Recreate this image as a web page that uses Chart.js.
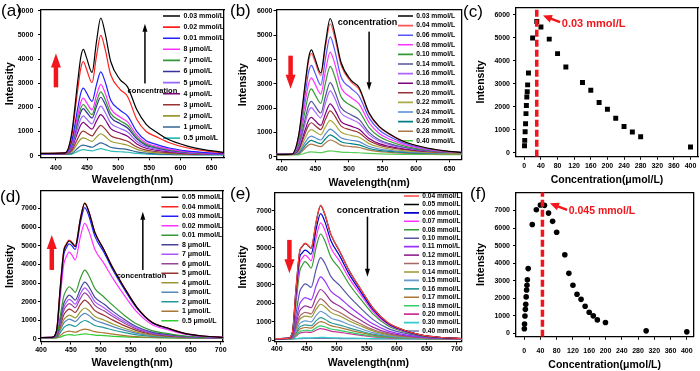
<!DOCTYPE html>
<html>
<head>
<meta charset="utf-8">
<script src="https://cdn.jsdelivr.net/npm/chart.js@4.4.1/dist/chart.umd.min.js"></script>
<style>
  html, body { margin: 0; padding: 0; background: #fff; }
  #wrap { position: relative; width: 700px; height: 371px; overflow: hidden; }
  #wrap canvas { position: absolute; }
</style>
</head>
<body>
<div id="wrap">
  <canvas id="pa" width="230" height="192" style="left:0;top:0"></canvas>
  <canvas id="pb" width="238" height="192" style="left:228px;top:0"></canvas>
  <canvas id="pc" width="238" height="192" style="left:462px;top:0"></canvas>
  <canvas id="pd" width="228" height="186" style="left:0;top:185px"></canvas>
  <canvas id="pe" width="238" height="186" style="left:228px;top:185px"></canvas>
  <canvas id="pf" width="238" height="186" style="left:462px;top:185px"></canvas>
</div>
<script>
// ---- data ----
// wavelength grids (nm)
const wlAB = [375, 415, 425, 435, 440, 444, 449, 458, 465, 472, 479, 488, 503, 515, 530, 545, 560, 580, 610, 640, 672];
const wlDE = [396, 418, 426, 432, 438, 442, 447, 452, 457, 466, 473, 480, 490, 505, 520, 540, 560, 585, 610, 640, 670, 710];

// (a) low concentrations
const aLabels = ['0.03 mmol/L', '0.02 mmol/L', '0.01 mmol/L', '8 μmol/L', '7 μmol/L', '6 μmol/L',
                 '5 μmol/L', '4 μmol/L', '3 μmol/L', '2 μmol/L', '1 μmol/L', '0.5 μmol/L'];
const aColors = ['#000000', '#FF2020', '#2020FF', '#FF33FF', '#339933', '#333399',
                 '#9966FF', '#800080', '#993333', '#999933', '#336699', '#33BBBB'];
const aSeries = [
  [100, 120, 880, 3080, 4090, 4400, 4070, 3450, 4690, 5700, 5070, 3900, 3150, 2850, 1900, 1300, 1000, 680, 410, 245, 130],
  [100, 120, 780, 2730, 3630, 3900, 3590, 3020, 4100, 4980, 4410, 3350, 2750, 2450, 1500, 1000, 800, 560, 330, 200, 110],
  [90, 100, 560, 1960, 2600, 2800, 2610, 2250, 2920, 3470, 3060, 2300, 1880, 1650, 1000, 620, 480, 330, 200, 130, 90],
  [90, 100, 480, 1670, 2210, 2380, 2210, 1900, 2480, 2950, 2600, 1950, 1600, 1400, 850, 530, 400, 280, 170, 110, 80],
  [90, 100, 420, 1480, 1970, 2120, 1970, 1700, 2220, 2640, 2330, 1750, 1450, 1260, 760, 470, 360, 250, 150, 100, 80],
  [85, 95, 390, 1370, 1810, 1950, 1810, 1560, 2030, 2420, 2130, 1600, 1330, 1150, 700, 430, 330, 230, 140, 95, 75],
  [85, 95, 330, 1160, 1530, 1650, 1530, 1320, 1720, 2050, 1800, 1350, 1130, 980, 590, 370, 280, 200, 120, 85, 70],
  [80, 90, 280, 970, 1280, 1380, 1280, 1100, 1430, 1700, 1500, 1120, 940, 810, 490, 310, 235, 170, 105, 75, 65],
  [75, 85, 200, 710, 950, 1020, 950, 820, 1060, 1260, 1110, 830, 700, 600, 360, 230, 175, 125, 80, 60, 55],
  [70, 80, 150, 520, 690, 740, 690, 590, 770, 910, 800, 600, 505, 435, 265, 170, 130, 95, 65, 50, 50],
  [60, 70, 90, 310, 410, 440, 410, 350, 450, 530, 470, 350, 295, 255, 160, 105, 80, 60, 45, 40, 40],
  [55, 60, 70, 180, 235, 250, 235, 200, 250, 290, 255, 190, 165, 145, 95, 70, 55, 45, 40, 35, 35]
];

// (b) high concentrations
const bLabels = ['0.03 mmol/L', '0.04 mmol/L', '0.06 mmol/L', '0.08 mmol/L', '0.10 mmol/L', '0.14 mmol/L',
                 '0.16 mmol/L', '0.18 mmol/L', '0.20 mmol/L', '0.22 mmol/L', '0.24 mmol/L', '0.26 mmol/L',
                 '0.28 mmol/L', '0.40 mmol/L'];
const bColors = ['#000000', '#FF5555', '#5555FF', '#FF33FF', '#339933', '#555599', '#AA66FF',
                 '#800080', '#993333', '#AAAA44', '#5588CC', '#008080', '#AA7744', '#55CC55'];
const bSeries = [
  [100, 110, 880, 3080, 4090, 4400, 4070, 3450, 4680, 5690, 5060, 3900, 3150, 2850, 1800, 1250, 950, 650, 400, 250, 160],
  [100, 110, 850, 2980, 3950, 4250, 3940, 3350, 4520, 5470, 4880, 3780, 3080, 2780, 1760, 1220, 930, 640, 390, 245, 160],
  [100, 110, 750, 2630, 3500, 3760, 3480, 2950, 4040, 4930, 4360, 3300, 2820, 2500, 1600, 1100, 830, 580, 360, 235, 165],
  [100, 110, 650, 2280, 3020, 3250, 3020, 2580, 3530, 4310, 3810, 2870, 2440, 2180, 1400, 960, 730, 520, 330, 220, 165],
  [100, 110, 560, 1950, 2590, 2790, 2580, 2200, 3040, 3720, 3290, 2480, 2110, 1880, 1200, 830, 640, 460, 300, 210, 165],
  [95, 105, 460, 1600, 2120, 2280, 2110, 1800, 2490, 3050, 2690, 2030, 1730, 1540, 1000, 700, 540, 400, 270, 200, 170],
  [95, 105, 400, 1410, 1880, 2020, 1870, 1600, 2210, 2710, 2400, 1810, 1550, 1380, 900, 640, 500, 380, 260, 200, 175],
  [95, 105, 320, 1130, 1510, 1620, 1500, 1290, 1780, 2180, 1930, 1460, 1260, 1130, 750, 540, 430, 330, 240, 195, 180],
  [90, 100, 280, 980, 1300, 1400, 1300, 1120, 1540, 1890, 1670, 1270, 1100, 990, 660, 480, 380, 300, 220, 180, 170],
  [90, 100, 230, 780, 1040, 1120, 1040, 900, 1230, 1500, 1330, 1020, 880, 800, 540, 400, 320, 250, 190, 160, 150],
  [85, 95, 170, 600, 790, 850, 790, 690, 940, 1140, 1010, 780, 680, 620, 420, 320, 260, 210, 170, 150, 140],
  [85, 95, 140, 470, 620, 670, 620, 540, 740, 900, 800, 620, 540, 490, 340, 260, 220, 180, 150, 140, 130],
  [80, 90, 110, 360, 480, 520, 480, 420, 570, 690, 620, 480, 420, 380, 270, 210, 180, 150, 130, 120, 120],
  [70, 75, 80, 150, 190, 200, 190, 170, 210, 240, 225, 190, 175, 165, 140, 120, 110, 100, 95, 90, 90]
];

// (c) peak intensity vs concentration (umol/L)
const cConc = [0.5, 1, 2, 3, 4, 5, 6, 7, 8, 10, 20, 30, 40, 60, 80, 100, 140, 160, 180, 200, 220, 240, 260, 280, 400];
const cInt = [300, 535, 910, 1260, 1700, 2050, 2420, 2650, 2950, 3470, 4990, 5710, 5470, 4940, 4310, 3730,
              3050, 2720, 2180, 1890, 1500, 1140, 900, 690, 246];
const cOptimum = 30;

// (d) low concentrations
const dLabels = ['0.05 mmol/L', '0.04 mmol/L', '0.03 mmol/L', '0.02 mmol/L', '0.01 mmol/L', '8 μmol/L',
                 '7 μmol/L', '6 μmol/L', '5 μmol/L', '4 μmol/L', '3 μmol/L', '2 μmol/L', '1 μmol/L', '0.5 μmol/L'];
const dColors = ['#000000', '#FF2020', '#2020FF', '#FF33FF', '#339933', '#444499', '#AA55FF',
                 '#994499', '#993333', '#999933', '#5588BB', '#229999', '#AA7733', '#33CC33'];
const dSeries = [
  [80, 90, 450, 2700, 4700, 5030, 5250, 5130, 4950, 6460, 7270, 6800, 5700, 4780, 3800, 2700, 1700, 900, 600, 300, 160, 80],
  [80, 90, 460, 2750, 4750, 5080, 5300, 5180, 5000, 6500, 7300, 6830, 5720, 4800, 3810, 2710, 1710, 905, 600, 300, 160, 80],
  [80, 90, 400, 2500, 4500, 4860, 5100, 4980, 4800, 6260, 7040, 6580, 5500, 4650, 3700, 2620, 1650, 880, 580, 290, 155, 80],
  [80, 90, 350, 2200, 4000, 4390, 4650, 4480, 4230, 5510, 6200, 5780, 4800, 4050, 3250, 2300, 1450, 780, 510, 260, 140, 80],
  [70, 80, 200, 1200, 2300, 2600, 2800, 2680, 2500, 3270, 3690, 3390, 2700, 2250, 1800, 1250, 800, 450, 300, 160, 100, 70],
  [70, 80, 170, 1000, 1900, 2170, 2350, 2240, 2080, 2710, 3050, 2800, 2230, 1870, 1480, 1030, 660, 370, 245, 135, 90, 65],
  [70, 80, 150, 900, 1700, 1950, 2120, 2020, 1870, 2440, 2740, 2520, 2000, 1680, 1330, 920, 590, 330, 220, 125, 85, 65],
  [70, 75, 140, 810, 1530, 1750, 1900, 1810, 1680, 2190, 2470, 2270, 1800, 1510, 1200, 830, 530, 300, 200, 115, 80, 60],
  [65, 75, 120, 680, 1290, 1480, 1600, 1530, 1420, 1850, 2080, 1910, 1520, 1270, 1010, 700, 450, 255, 170, 100, 75, 60],
  [65, 70, 100, 540, 1030, 1180, 1280, 1220, 1130, 1470, 1660, 1530, 1210, 1020, 800, 560, 360, 210, 140, 90, 70, 55],
  [60, 70, 90, 450, 850, 980, 1060, 1010, 930, 1220, 1370, 1260, 1000, 840, 660, 460, 300, 175, 120, 80, 65, 55],
  [60, 65, 75, 330, 610, 710, 770, 730, 670, 880, 990, 910, 720, 610, 480, 340, 220, 135, 95, 70, 60, 50],
  [55, 60, 65, 180, 330, 385, 420, 395, 360, 470, 530, 490, 390, 330, 260, 185, 125, 85, 65, 55, 50, 45],
  [50, 55, 60, 100, 180, 210, 230, 220, 200, 245, 270, 255, 210, 180, 145, 110, 85, 65, 55, 50, 45, 40]
];

// (e) high concentrations
const eLabels = ['0.04 mmol/L', '0.05 mmol/L', '0.06 mmol/L', '0.07 mmol/L', '0.08 mmol/L', '0.10 mmol/L',
                 '0.11 mmol/L', '0.12 mmol/L', '0.13 mmol/L', '0.14 mmol/L', '0.15 mmol/L', '0.16 mmol/L',
                 '0.17 mmol/L', '0.18 mmol/L', '0.20 mmol/L', '0.30 mmol/L', '0.40 mmol/L'];
const eColors = ['#FF4444', '#000000', '#0000CC', '#FF33FF', '#339933', '#5555AA', '#9933FF', '#993399',
                 '#AA6666', '#999933', '#6699CC', '#339999', '#AA7733', '#33CC66', '#CC3399', '#33CCCC', '#7777AA'];
const eSeries = [
  [80, 90, 420, 2800, 4800, 5070, 5250, 5150, 5000, 6500, 7310, 6840, 5750, 4800, 3800, 2750, 1750, 950, 560, 280, 150, 80],
  [80, 90, 430, 2800, 4780, 5050, 5230, 5130, 4980, 6480, 7280, 6810, 5730, 4790, 3790, 2740, 1740, 940, 560, 280, 150, 80],
  [80, 90, 380, 2550, 4450, 4710, 4880, 4790, 4650, 6080, 6850, 6420, 5400, 4550, 3600, 2600, 1660, 900, 540, 270, 145, 80],
  [80, 90, 350, 2300, 4150, 4420, 4600, 4480, 4300, 5630, 6350, 5950, 5000, 4250, 3370, 2450, 1560, 850, 510, 260, 140, 80],
  [80, 90, 300, 2000, 3700, 4030, 4250, 4110, 3900, 5100, 5750, 5380, 4500, 3850, 3050, 2200, 1420, 780, 470, 240, 130, 75],
  [75, 85, 220, 1400, 2600, 2870, 3050, 2970, 2850, 3900, 4470, 4160, 3450, 2950, 2380, 1720, 1120, 630, 390, 210, 115, 75],
  [75, 85, 170, 1050, 1950, 2160, 2300, 2250, 2180, 2980, 3420, 3190, 2650, 2280, 1850, 1340, 880, 500, 310, 175, 100, 70],
  [70, 80, 140, 850, 1580, 1740, 1850, 1810, 1750, 2390, 2740, 2560, 2130, 1830, 1480, 1070, 700, 400, 255, 150, 90, 65],
  [70, 80, 120, 690, 1280, 1410, 1500, 1470, 1420, 1940, 2230, 2080, 1730, 1490, 1200, 870, 570, 330, 215, 130, 85, 65],
  [70, 75, 110, 600, 1110, 1220, 1300, 1280, 1240, 1690, 1940, 1810, 1500, 1300, 1050, 760, 500, 290, 190, 120, 80, 60],
  [65, 75, 95, 480, 890, 980, 1040, 1020, 990, 1350, 1550, 1450, 1200, 1040, 840, 610, 400, 240, 160, 105, 75, 60],
  [65, 70, 85, 380, 700, 770, 820, 800, 780, 1060, 1210, 1130, 940, 810, 660, 480, 320, 195, 135, 95, 70, 55],
  [60, 70, 80, 320, 580, 640, 680, 665, 645, 875, 1000, 935, 780, 670, 550, 400, 270, 170, 120, 85, 65, 55],
  [60, 65, 75, 250, 450, 500, 530, 520, 500, 675, 770, 720, 600, 520, 425, 310, 210, 140, 100, 75, 60, 50],
  [60, 65, 70, 210, 370, 405, 430, 420, 410, 545, 620, 580, 485, 420, 345, 255, 175, 120, 90, 70, 60, 50],
  [55, 60, 62, 80, 105, 112, 120, 118, 115, 135, 146, 140, 125, 115, 105, 90, 80, 70, 65, 60, 55, 50],
  [55, 58, 60, 70, 80, 82, 85, 84, 83, 88, 91, 89, 85, 82, 78, 72, 68, 62, 60, 56, 54, 50]
];

// (f) peak intensity vs concentration (umol/L)
const fConc = [0.5, 1, 2, 3, 4, 5, 6, 7, 8, 10, 20, 30, 40, 50, 60, 70, 80, 100, 110, 120, 130, 140,
               150, 160, 170, 180, 200, 300, 400];
const fInt = [270, 530, 990, 1370, 1660, 2080, 2470, 2740, 3050, 3690, 6200, 7040, 7310, 7290, 6850, 6380,
              5760, 4480, 3420, 2740, 2230, 1940, 1550, 1210, 1000, 770, 620, 146, 91];
const fOptimum = 45;

// tick labels
const wlTicksAB = [400, 450, 500, 550, 600, 650];
const wlTicksDE = [400, 450, 500, 550, 600, 650, 700];
const concTicks = [0, 40, 80, 120, 160, 200, 240, 280, 320, 360, 400];
const intTicks6 = [0, 1000, 2000, 3000, 4000, 5000, 6000];
const intTicks7 = [0, 1000, 2000, 3000, 4000, 5000, 6000, 7000];

// ---- drawing ----
const FONT = "'Liberation Sans', Arial, sans-serif";
const RED = '#F2161C';

function drawArrow(ctx, x0, y0, x1, y1, shaft, headW, headL, color) {
  const ang = Math.atan2(y1 - y0, x1 - x0);
  const len = Math.hypot(x1 - x0, y1 - y0);
  ctx.save();
  ctx.translate(x0, y0);
  ctx.rotate(ang);
  ctx.fillStyle = color;
  ctx.fillRect(0, -shaft / 2, len - headL + 0.5, shaft);
  ctx.beginPath();
  ctx.moveTo(len, 0);
  ctx.lineTo(len - headL, -headW / 2);
  ctx.lineTo(len - headL, headW / 2);
  ctx.closePath();
  ctx.fill();
  ctx.restore();
}

// arrows and texts placed in data space, panel tag in canvas space
function notesPlugin(notes, tag) {
  return {
    id: 'notes',
    afterDraw(chart) {
      const ctx = chart.ctx;
      const xs = chart.scales.x, ys = chart.scales.y;
      ctx.save();
      for (const n of notes) {
        if (n.type === 'arrow') {
          drawArrow(ctx, xs.getPixelForValue(n.x0), ys.getPixelForValue(n.y0),
                    xs.getPixelForValue(n.x1), ys.getPixelForValue(n.y1),
                    n.shaft, n.headW, n.headL, n.color);
        } else {
          ctx.font = 'bold ' + n.size + 'px ' + FONT;
          ctx.fillStyle = n.color;
          ctx.textAlign = n.align;
          ctx.textBaseline = 'middle';
          ctx.fillText(n.text, xs.getPixelForValue(n.x), ys.getPixelForValue(n.y));
        }
      }
      ctx.font = '17px ' + FONT;
      ctx.fillStyle = '#000';
      ctx.textAlign = 'left';
      ctx.textBaseline = 'middle';
      ctx.fillText(tag.text, tag.x, tag.y);
      ctx.restore();
    }
  };
}

// move the chartArea legend to the upper right corner
function placeLegend(leg) {
  return {
    id: 'placeLegend',
    afterLayout(chart) {
      const lg = chart.legend, ca = chart.chartArea;
      lg.left = ca.right - leg.fromRight - leg.pad;
      lg.right = lg.left + lg.width;
      lg.top = ca.top + leg.firstRow - leg.pad - leg.size / 2;
      lg.bottom = lg.top + 1000;
    }
  };
}

function makeAxes(p) {
  const tickFont = { family: FONT, size: 7, weight: 'bold' };
  const titleFont = { family: FONT, size: 10.5, weight: 'bold' };
  const frame = { display: true, color: '#000', width: 1.3 };
  return {
    x: {
      type: 'linear', position: 'bottom', min: p.xMin, max: p.xMax,
      afterBuildTicks: s => { s.ticks = p.xTicks.map(v => ({ value: v })); },
      afterFit: s => { s.height = p.axisH; },
      grid: { display: true, drawOnChartArea: false, drawTicks: true, tickLength: 3, color: '#000', lineWidth: 1 },
      border: frame,
      ticks: { font: tickFont, color: '#000', padding: p.xTickPad, maxRotation: 0, autoSkip: false, callback: v => String(v) },
      title: { display: true, text: p.xTitle, font: titleFont, color: '#000', padding: { top: 0, bottom: p.xTitlePad } }
    },
    y: {
      type: 'linear', position: 'left', min: p.yMin, max: p.yMax,
      afterBuildTicks: s => { s.ticks = p.yTicks.map(v => ({ value: v })); },
      afterFit: s => { s.width = p.axisW; },
      grid: { display: true, drawOnChartArea: false, drawTicks: true, tickLength: 3, color: '#000', lineWidth: 1 },
      border: frame,
      ticks: { font: tickFont, color: '#000', padding: p.yTickPad, autoSkip: false, callback: v => String(v) },
      title: { display: true, text: 'Intensity', font: titleFont, color: '#000', padding: { top: p.yTitlePad, bottom: 0 } }
    },
    x2: {
      type: 'linear', position: 'top', min: 0, max: 1,
      grid: { display: false }, ticks: { display: false }, border: frame,
      afterFit: s => { s.height = 0; }
    },
    y2: {
      type: 'linear', position: 'right', min: 0, max: 1,
      grid: { display: false }, ticks: { display: false }, border: frame,
      afterFit: s => { s.width = 0; }
    }
  };
}

function spectrumChart(id, p) {
  const datasets = p.series.map((vals, i) => ({
    label: p.labels[i],
    data: p.wl.map((w, j) => ({ x: w, y: vals[j] })),
    borderColor: p.colors[i],
    backgroundColor: p.colors[i],
    borderWidth: 1.2,
    pointRadius: 0,
    cubicInterpolationMode: 'monotone',
    fill: false,
    xAxisID: 'x', yAxisID: 'y'
  }));
  new Chart(document.getElementById(id), {
    type: 'line',
    data: { datasets },
    options: {
      responsive: false, animation: false, events: [],
      layout: { padding: { left: 0, top: p.padT, right: p.padR, bottom: 0 }, autoPadding: false },
      scales: makeAxes(p),
      plugins: {
        tooltip: { enabled: false },
        legend: {
          display: true, position: 'chartArea', align: 'start',
          labels: {
            usePointStyle: true, pointStyle: 'line', pointStyleWidth: p.leg.line, boxWidth: p.leg.line,
            padding: p.leg.pad, color: '#000',
            font: { family: FONT, size: p.leg.size, weight: 'bold' },
            generateLabels: chart => Chart.defaults.plugins.legend.labels.generateLabels(chart)
              .map(it => Object.assign(it, { lineWidth: 1.6 }))
          }
        }
      }
    },
    plugins: [placeLegend(p.leg), notesPlugin(p.notes, p.tag)]
  });
}

function scatterChart(id, p) {
  new Chart(document.getElementById(id), {
    type: 'scatter',
    data: {
      datasets: [
        {
          label: 'optimum',
          data: [{ x: p.optimum, y: p.yMin }, { x: p.optimum, y: p.yMax }],
          showLine: true, borderColor: RED, borderWidth: 3.5, borderDash: [7, 3],
          pointRadius: 0, xAxisID: 'x', yAxisID: 'y'
        },
        {
          label: 'intensity',
          data: p.conc.map((c, i) => ({ x: c, y: p.inten[i] })),
          pointStyle: p.pointStyle, pointRadius: p.pointRadius,
          backgroundColor: '#000', borderColor: '#000', borderWidth: 0,
          xAxisID: 'x', yAxisID: 'y'
        }
      ]
    },
    options: {
      responsive: false, animation: false, events: [],
      layout: { padding: { left: 0, top: p.padT, right: p.padR, bottom: 0 }, autoPadding: false },
      scales: makeAxes(p),
      plugins: { tooltip: { enabled: false }, legend: { display: false } }
    },
    plugins: [notesPlugin(p.notes, p.tag)]
  });
}

const upRed = (x, y0, y1) => ({ type: 'arrow', x0: x, y0: y0, x1: x, y1: y1, shaft: 4.5, headW: 10, headL: 14, color: RED });
const blackArrow = (x, y0, y1) => ({ type: 'arrow', x0: x, y0: y0, x1: x, y1: y1, shaft: 1.5, headW: 5, headL: 8, color: '#000' });
const label = (x, y, text, size, color, align) => ({ type: 'text', x: x, y: y, text: text, size: size, color: color, align: align });

spectrumChart('pa', {
  wl: wlAB, series: aSeries, labels: aLabels, colors: aColors,
  xMin: 376, xMax: 670, yMin: -65, yMax: 6030, xTicks: wlTicksAB, yTicks: intTicks6,
  xTitle: 'Wavelength(nm)', axisW: 41, axisH: 34.7, padT: 10, padR: 6,
  xTickPad: 3.8, xTitlePad: 5.7, yTickPad: 4.7, yTitlePad: 3.7,
  leg: { line: 17, pad: 4.1, size: 7, fromRight: 61, firstRow: 6 },
  notes: [upRed(400, 2830, 4230), blackArrow(543, 2990, 5460), label(555, 2700, 'concentration', 7.5, '#000', 'center')],
  tag: { text: '(a)', x: 1, y: 11 }
});

spectrumChart('pb', {
  wl: wlAB, series: bSeries, labels: bLabels, colors: bColors,
  xMin: 392, xMax: 668, yMin: -105, yMax: 6040, xTicks: wlTicksAB, yTicks: intTicks6,
  xTitle: 'Wavelength(nm)', axisW: 48.5, axisH: 32.7, padT: 10, padR: 4.3,
  xTickPad: 2.8, xTitlePad: 2.7, yTickPad: 1, yTitlePad: 9,
  leg: { line: 15, pad: 2.9, size: 6.7, fromRight: 63.7, firstRow: 6 },
  notes: [upRed(413, 4160, 2800), blackArrow(530, 5150, 2740), label(527.5, 5520, 'concentration', 9, '#000', 'center')],
  tag: { text: '(b)', x: 2, y: 11 }
});

scatterChart('pc', {
  conc: cConc, inten: cInt, optimum: cOptimum, pointStyle: 'rect', pointRadius: 3.5,
  xMin: -20, xMax: 418, yMin: -175, yMax: 6330, xTicks: concTicks, yTicks: intTicks6,
  xTitle: 'Concentration(μmol/L)', axisW: 54, axisH: 35.3, padT: 6.7, padR: 2,
  xTickPad: 2.1, xTitlePad: 5.7, yTickPad: 3, yTitlePad: 12.4,
  notes: [
    { type: 'arrow', x0: 86, y0: 5680, x1: 44.8, y1: 5970, shaft: 2.5, headW: 8, headL: 9, color: RED },
    label(90.3, 5580, '0.03 mmol/L', 11, RED, 'left')
  ],
  tag: { text: '(c)', x: 1, y: 12 }
});

spectrumChart('pd', {
  wl: wlDE, series: dSeries, labels: dLabels, colors: dColors,
  xMin: 400, xMax: 704, yMin: -140, yMax: 7930, xTicks: wlTicksDE, yTicks: intTicks7,
  xTitle: 'Wavelength(nm)', axisW: 41, axisH: 29.4, padT: 6, padR: 3,
  xTickPad: 1.4, xTitlePad: 2, yTickPad: 1.3, yTitlePad: 3.7,
  leg: { line: 17, pad: 2.5, size: 7, fromRight: 61.7, firstRow: 6.3 },
  notes: [upRed(418, 3700, 5570), blackArrow(570, 3700, 6820), label(567.7, 3390, 'concentration', 7.5, '#000', 'center')],
  tag: { text: '(d)', x: 0, y: 12 }
});

spectrumChart('pe', {
  wl: wlDE, series: eSeries, labels: eLabels, colors: eColors,
  xMin: 397, xMax: 708, yMin: -90, yMax: 8010, xTicks: wlTicksDE, yTicks: intTicks7,
  xTitle: 'Wavelength(nm)', axisW: 47, axisH: 29.3, padT: 7.3, padR: 4.3,
  xTickPad: 0.4, xTitlePad: 2, yTickPad: 0.3, yTitlePad: 9,
  leg: { line: 15, pad: 1.84, size: 6.6, fromRight: 57.7, firstRow: 3.7 },
  notes: [upRed(421, 5430, 3620), blackArrow(551, 6690, 3430), label(552, 7050, 'concentration', 9.5, '#000', 'center')],
  tag: { text: '(e)', x: 2, y: 9 }
});

scatterChart('pf', {
  conc: fConc, inten: fInt, optimum: fOptimum, pointStyle: 'circle', pointRadius: 2.8,
  xMin: -20, xMax: 416, yMin: -186, yMax: 8040, xTicks: concTicks, yTicks: intTicks7,
  xTitle: 'Concentration(μmol/L)', axisW: 54, axisH: 34.3, padT: 1.7, padR: 2.3,
  xTickPad: 7.1, xTitlePad: 0, yTickPad: 3, yTitlePad: 12.4,
  notes: [
    { type: 'arrow', x0: 105.5, y0: 7038, x1: 63.4, y1: 7405, shaft: 2.5, headW: 8, headL: 9, color: RED },
    label(109.7, 6944, '0.045 mmol/L', 10.5, RED, 'left')
  ],
  tag: { text: '(f)', x: 8, y: 9 }
});
</script>
</body>
</html>
